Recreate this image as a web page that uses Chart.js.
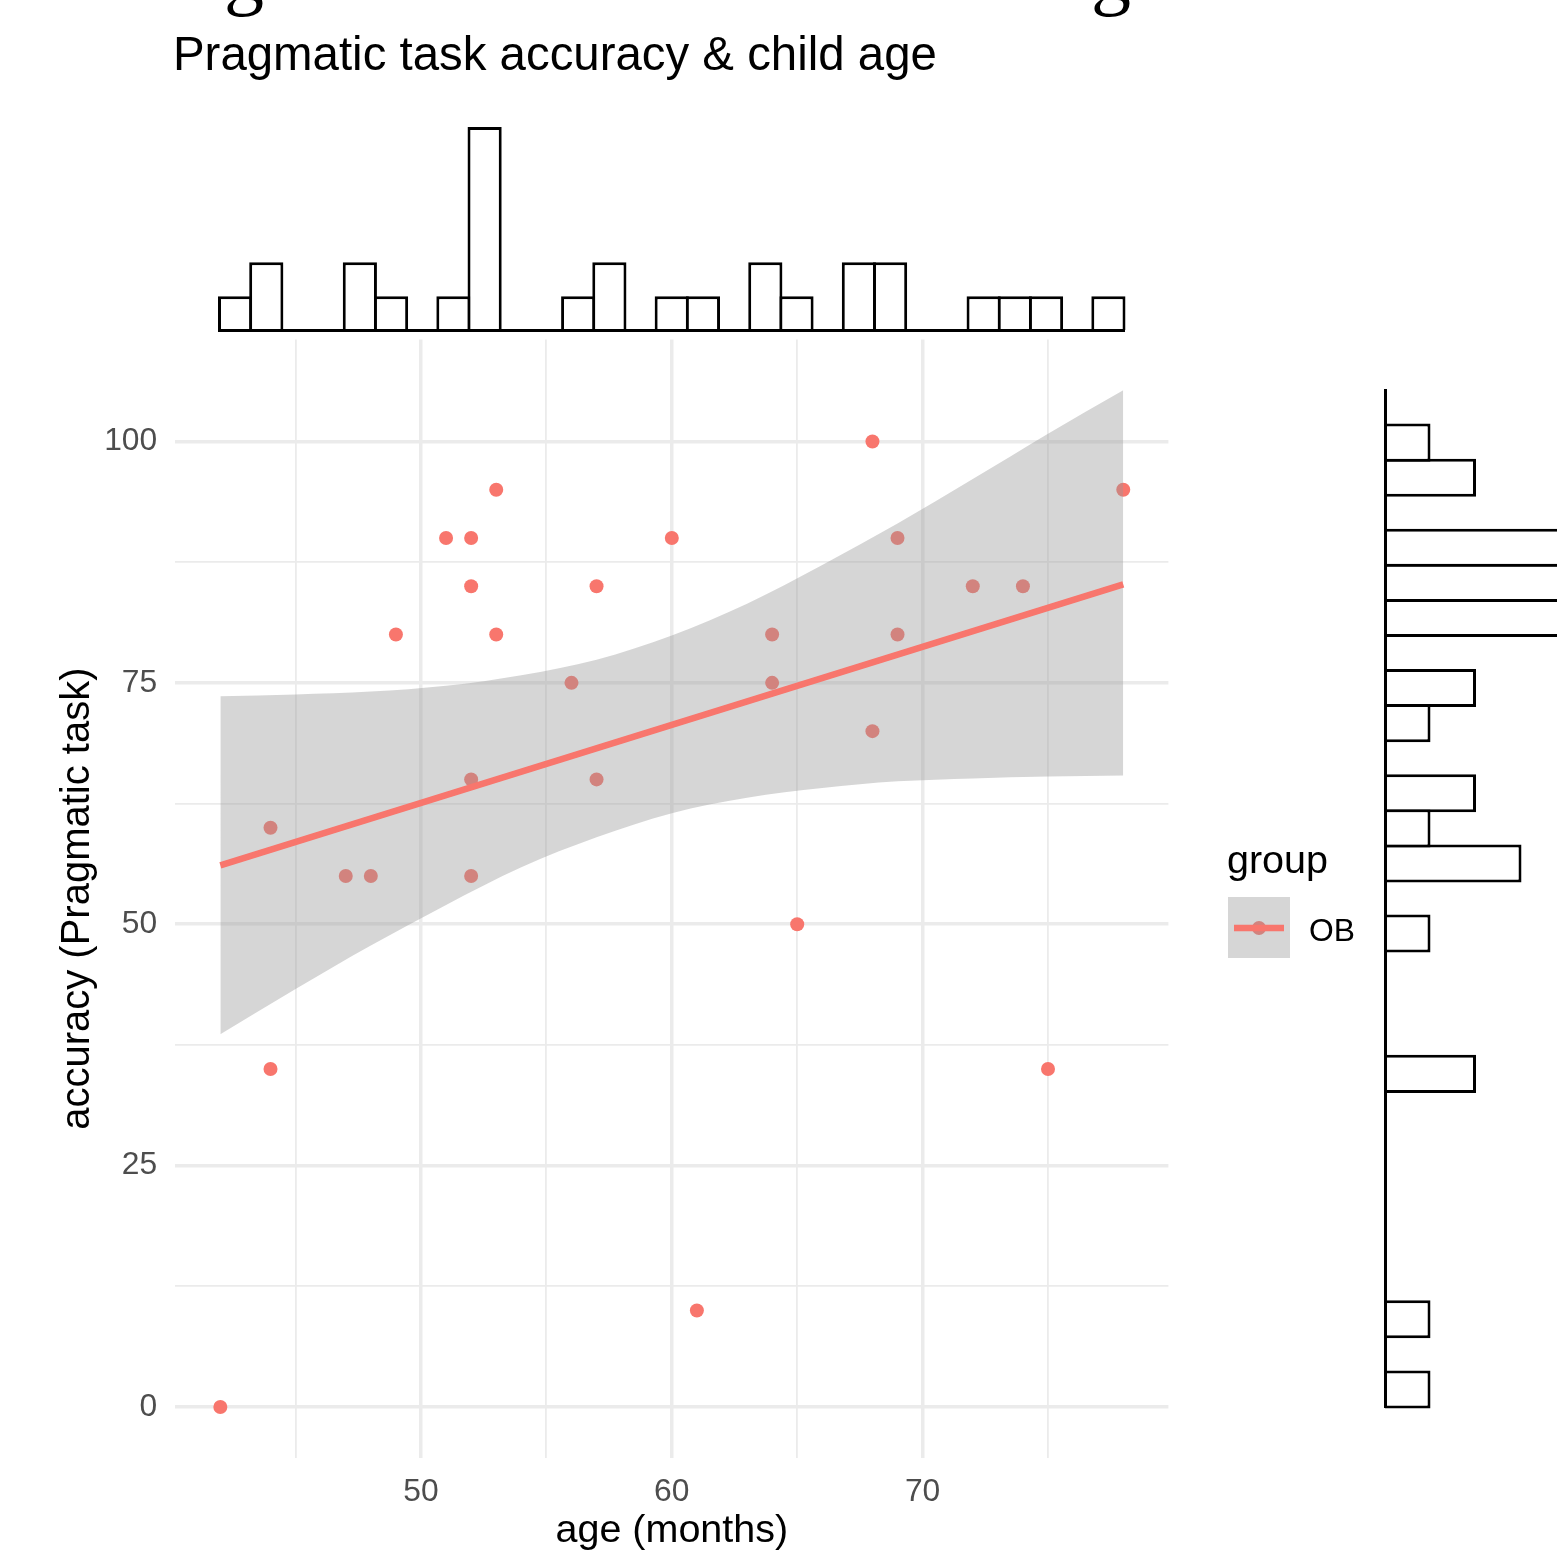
<!DOCTYPE html>
<html>
<head>
<meta charset="utf-8">
<script src="https://cdn.jsdelivr.net/npm/chart.js@4.4.1/dist/chart.umd.min.js"></script>
<style>
  html, body { margin: 0; padding: 0; background: #fff; overflow: hidden; }
  #wrap { position: relative; width: 1557px; height: 1551px; }
  #wrap canvas { position: absolute; display: block; }
</style>
</head>
<body>
<div id="wrap">
  <canvas id="main" width="1557" height="1551" style="left:0;top:0"></canvas>
  <canvas id="top-hist" width="950" height="240" style="left:200px;top:100px"></canvas>
  <canvas id="right-hist" width="197" height="1060" style="left:1360px;top:370px"></canvas>
</div>
<script>
// scatter data: age (months) and pragmatic task accuracy
var ages = [42, 44, 44, 47, 48, 49, 51, 52, 52, 52, 52, 53, 53, 56, 57, 57, 60, 61, 64, 64, 65, 68, 68, 69, 69, 72, 74, 75, 78];
var accuracy = [0, 60, 35, 55, 55, 80, 90, 90, 85, 65, 55, 95, 80, 75, 85, 65, 90, 10, 80, 75, 50, 100, 70, 90, 80, 85, 85, 35, 95];

// linear fit and its confidence band
var fitAges = [42, 78];
var fitAccuracy = [56.1, 85.2];
var bandAges = [42, 45, 48, 51, 54, 57, 60, 63, 66, 69, 72, 75, 78];
var bandUpper = [73.6, 73.8, 74.1, 74.7, 75.8, 77.4, 79.9, 83.2, 87.2, 91.5, 96.1, 100.8, 105.3];
var bandLower = [38.6, 43.3, 47.8, 52.0, 55.9, 59.0, 61.5, 63.1, 64.1, 64.8, 65.1, 65.3, 65.4];

// marginal histogram counts (29 bins each)
var ageBinCounts = [1, 2, 0, 0, 2, 1, 0, 1, 6, 0, 0, 1, 2, 0, 1, 1, 0, 2, 1, 0, 2, 2, 0, 0, 1, 1, 1, 0, 1];
var accBinCounts = [1, 0, 1, 0, 0, 0, 0, 0, 0, 2, 0, 0, 0, 1, 0, 3, 1, 2, 0, 1, 2, 0, 4, 4, 4, 0, 2, 1, 0];

// ticks
var xMajor = [50, 60, 70];
var xMinor = [45, 55, 65, 75];
var yMajor = [0, 25, 50, 75, 100];
var yMinor = [12.5, 37.5, 62.5, 87.5];

var RED = '#F8766D';
var FONT = '"Liberation Sans", Arial, Helvetica, sans-serif';
Chart.defaults.font.family = FONT;

function toPoints(xs, ys) {
  return xs.map(function (x, i) { return { x: x, y: ys[i] }; });
}
function gridTicks(major, minor) {
  return major.concat(minor).sort(function (a, b) { return a - b; }).map(function (v) { return { value: v }; });
}

// title, legend and the clipped glyphs at the top edge
var decorations = {
  id: 'decorations',
  afterDraw: function (chart) {
    var ctx = chart.ctx;
    ctx.save();
    ctx.textBaseline = 'alphabetic';
    ctx.textAlign = 'left';

    ctx.fillStyle = '#000';
    ctx.font = '80px "Liberation Serif", "Times New Roman", serif';
    ctx.fillText('g', 224, 0);
    ctx.fillText('g', 1091, 0);

    ctx.font = '47.4px ' + FONT;
    ctx.fillText('Pragmatic task accuracy & child age', 173, 70);

    ctx.font = '39.5px ' + FONT;
    ctx.fillText('group', 1227, 873);

    ctx.fillStyle = RED;
    ctx.beginPath();
    ctx.arc(1259, 928, 7, 0, Math.PI * 2);
    ctx.fill();
    ctx.fillStyle = 'rgba(153,153,153,0.4)';
    ctx.fillRect(1228, 897, 62, 61);
    ctx.strokeStyle = RED;
    ctx.lineWidth = 6.5;
    ctx.beginPath();
    ctx.moveTo(1234, 928);
    ctx.lineTo(1284, 928);
    ctx.stroke();

    ctx.fillStyle = '#000';
    ctx.font = '31.8px ' + FONT;
    ctx.fillText('OB', 1309, 941);
    ctx.restore();
  }
};

new Chart(document.getElementById('main'), {
  type: 'scatter',
  data: {
    datasets: [
      {
        type: 'line',
        data: toPoints(fitAges, fitAccuracy),
        borderColor: RED,
        borderWidth: 6.5,
        pointRadius: 0,
        fill: false,
        order: 0
      },
      {
        type: 'line',
        data: toPoints(bandAges, bandUpper),
        borderColor: 'rgba(0,0,0,0)',
        borderWidth: 0,
        pointRadius: 0,
        cubicInterpolationMode: 'monotone',
        backgroundColor: 'rgba(153,153,153,0.4)',
        fill: '+1',
        order: 1
      },
      {
        type: 'line',
        data: toPoints(bandAges, bandLower),
        borderColor: 'rgba(0,0,0,0)',
        borderWidth: 0,
        pointRadius: 0,
        cubicInterpolationMode: 'monotone',
        fill: false,
        order: 2
      },
      {
        data: toPoints(ages, accuracy),
        backgroundColor: RED,
        pointBackgroundColor: RED,
        pointRadius: 7,
        pointBorderWidth: 0,
        borderWidth: 0,
        order: 3
      }
    ]
  },
  options: {
    responsive: false,
    animation: false,
    layout: { padding: { left: 54.2, right: 388.6, top: 339.5, bottom: 0 } },
    plugins: { legend: { display: false }, tooltip: { enabled: false } },
    scales: {
      x: {
        type: 'linear',
        min: 40.2,
        max: 79.8,
        afterBuildTicks: function (s) { s.ticks = gridTicks(xMajor, xMinor); },
        afterFit: function (s) { s.height = 93.2; },
        grid: {
          color: '#ebebeb',
          drawTicks: false,
          lineWidth: function (c) { return xMajor.indexOf(c.tick && c.tick.value) >= 0 ? 3.5 : 1.8; }
        },
        border: { display: false },
        ticks: {
          autoSkip: false,
          maxRotation: 0,
          padding: 15,
          color: '#4d4d4d',
          font: { size: 31.8 },
          callback: function (v) { return xMajor.indexOf(v) >= 0 ? String(v) : ''; }
        },
        title: { display: true, text: 'age (months)', color: '#000', font: { size: 39.5 }, padding: { top: 0, bottom: -4 } }
      },
      y: {
        type: 'linear',
        min: -5.26,
        max: 110.56,
        afterBuildTicks: function (s) { s.ticks = gridTicks(yMajor, yMinor); },
        afterFit: function (s) { s.width = 121; },
        grid: {
          color: '#ebebeb',
          drawTicks: false,
          lineWidth: function (c) { return yMajor.indexOf(c.tick && c.tick.value) >= 0 ? 3.5 : 1.8; }
        },
        border: { display: false },
        ticks: {
          autoSkip: false,
          padding: 18,
          color: '#4d4d4d',
          font: { size: 31.8 },
          callback: function (v) { return yMajor.indexOf(v) >= 0 ? String(v) : ''; }
        },
        title: { display: true, text: 'accuracy (Pragmatic task)', color: '#000', font: { size: 40 }, padding: 0 }
      }
    }
  },
  plugins: [decorations]
});

// top marginal histogram (age)
new Chart(document.getElementById('top-hist'), {
  type: 'bar',
  data: {
    labels: ageBinCounts.map(function (c, i) { return 'a' + i; }),
    datasets: [{
      data: ageBinCounts,
      backgroundColor: '#fff',
      borderColor: '#000',
      borderWidth: 3,
      borderSkipped: 'start',
      barPercentage: 1.096,
      categoryPercentage: 1,
      clip: false
    }]
  },
  options: {
    responsive: false,
    animation: false,
    layout: { padding: { left: 19.5, right: 26, top: 27, bottom: 10 } },
    plugins: { legend: { display: false }, tooltip: { enabled: false } },
    scales: {
      x: {
        grid: { display: false, drawTicks: false },
        ticks: { display: false },
        border: { display: true, color: '#000', width: 3, z: 1 },
        afterFit: function (s) { s.height = 0; }
      },
      y: { display: false, min: 0, max: 6 }
    }
  }
});

// right marginal histogram (accuracy)
new Chart(document.getElementById('right-hist'), {
  type: 'bar',
  data: {
    labels: accBinCounts.map(function (c, i) { return 'b' + i; }),
    datasets: [{
      data: accBinCounts,
      backgroundColor: '#fff',
      borderColor: '#000',
      borderWidth: 3,
      borderSkipped: 'start',
      barPercentage: 1.0855,
      categoryPercentage: 1,
      clip: false
    }]
  },
  options: {
    indexAxis: 'y',
    responsive: false,
    animation: false,
    layout: { padding: { left: 25, right: 0, top: 20, bottom: 23 } },
    plugins: { legend: { display: false }, tooltip: { enabled: false } },
    scales: {
      y: {
        reverse: true,
        grid: { display: false, drawTicks: false },
        ticks: { display: false },
        border: { display: true, color: '#000', width: 3, z: 1 },
        afterFit: function (s) { s.width = 0; }
      },
      x: { display: false, min: 0, max: 3.78 }
    }
  }
});
</script>
</body>
</html>
